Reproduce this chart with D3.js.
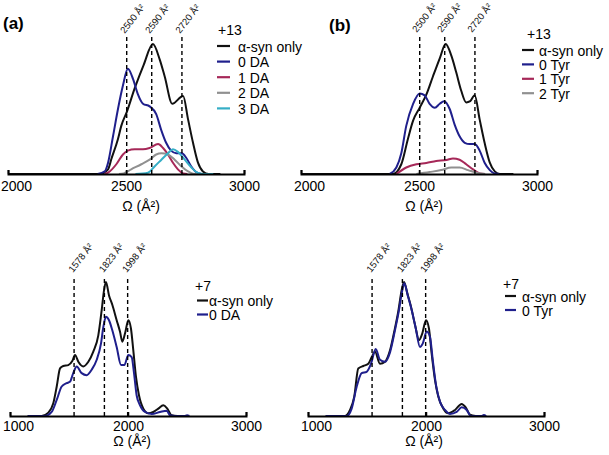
<!DOCTYPE html>
<html>
<head>
<meta charset="utf-8">
<script src="https://cdn.jsdelivr.net/npm/d3@7"></script>
<style>
  html, body { margin: 0; padding: 0; background: #fff; }
  svg { display: block; }
  text { font-family: "Liberation Sans", Arial, sans-serif; }
</style>
</head>
<body>
<svg id="chart" width="609" height="455"></svg>
<script>
// ---------------- DATA ----------------
const topTicks = [2000, 2500, 3000];
const bottomTicks = [1000, 2000, 3000];
const topMarkers = [2503, 2609, 2737];
const topMarkerLabels = ["2500 Å²", "2590 Å²", "2720 Å²"];
const bottomMarkers = [1543, 1800, 1997];
const bottomMarkerLabels = ["1578 Å²", "1823 Å²", "1998 Å²"];
const axisTitle = "Ω (Å²)";

// (a) +13 with DA
const a_synOnly = [[2000,0],[2390,0],[2424,0.036],[2438,0.115],[2466,0.27],[2480,0.37],[2504,0.48],[2537,0.66],[2575,0.84],[2614,1.0],[2643,0.88],[2664,0.75],[2696,0.54],[2742,0.6],[2763,0.42],[2784,0.24],[2805,0.087],[2826,0.02],[2850,0],[2900,0]];
const a_0DA = [[2380,0],[2410,0.02],[2424,0.087],[2445,0.29],[2466,0.5],[2487,0.68],[2508,0.81],[2530,0.73],[2551,0.61],[2572,0.54],[2600,0.52],[2628,0.46],[2649,0.34],[2670,0.24],[2691,0.18],[2713,0.16],[2737,0.16],[2755,0.125],[2776,0.06],[2797,0.015],[2820,0]];
const a_1DA = [[2410,0],[2424,0.01],[2459,0.075],[2487,0.15],[2508,0.18],[2537,0.19],[2572,0.19],[2600,0.2],[2636,0.23],[2657,0.2],[2678,0.15],[2699,0.087],[2720,0.036],[2742,0.005],[2760,0]];
const a_2DA = [[2470,0],[2490,0.005],[2522,0.036],[2565,0.075],[2600,0.11],[2628,0.15],[2650,0.16],[2678,0.15],[2706,0.11],[2734,0.06],[2763,0.02],[2784,0.003],[2800,0]];
const a_3DA = [[2540,0],[2593,0.01],[2622,0.06],[2650,0.11],[2678,0.16],[2699,0.19],[2720,0.17],[2749,0.11],[2777,0.05],[2805,0.008],[2830,0],[2870,0]];

// (b) +13 with Tyr
const b_synOnly = [[2000,0],[2390,0],[2425,0.075],[2453,0.27],[2475,0.41],[2503,0.51],[2531,0.61],[2559,0.75],[2588,0.89],[2613,1.0],[2637,0.91],[2658,0.78],[2679,0.64],[2700,0.55],[2717,0.56],[2736,0.605],[2757,0.42],[2778,0.24],[2800,0.087],[2821,0.02],[2843,0],[2900,0]];
const b_0Tyr = [[2376,0],[2404,0.05],[2425,0.16],[2446,0.37],[2475,0.54],[2503,0.62],[2524,0.605],[2545,0.54],[2567,0.51],[2588,0.54],[2606,0.56],[2630,0.5],[2651,0.38],[2672,0.29],[2694,0.24],[2715,0.23],[2736,0.23],[2757,0.18],[2778,0.087],[2800,0.03],[2821,0.003],[2840,0]];
const b_1Tyr = [[2404,0],[2446,0.05],[2489,0.075],[2531,0.085],[2573,0.1],[2616,0.107],[2644,0.12],[2672,0.11],[2700,0.075],[2729,0.035],[2758,0.005],[2780,0]];
const b_2Tyr = [[2489,0],[2545,0.015],[2594,0.03],[2637,0.05],[2672,0.05],[2708,0.03],[2743,0.01],[2780,0]];

// (c) +7 with DA
const c_synOnly = [[1150,0],[1268,0],[1325,0.025],[1367,0.095],[1396,0.22],[1424,0.355],[1452,0.373],[1494,0.38],[1528,0.41],[1551,0.455],[1579,0.405],[1621,0.37],[1664,0.405],[1706,0.48],[1748,0.6],[1777,0.79],[1797,0.94],[1813,1.0],[1839,0.9],[1867,0.83],[1904,0.715],[1932,0.63],[1952,0.555],[1975,0.617],[2003,0.715],[2025,0.653],[2045,0.49],[2068,0.29],[2093,0.155],[2130,0.055],[2172,0.02],[2214,0.03],[2257,0.055],[2299,0.08],[2333,0.055],[2370,0.005],[2420,0]];
const c_0DA = [[1150,0],[1297,0],[1353,0.03],[1396,0.12],[1438,0.22],[1480,0.245],[1508,0.255],[1536,0.32],[1565,0.37],[1607,0.32],[1650,0.305],[1692,0.345],[1735,0.42],[1771,0.54],[1791,0.665],[1813,0.74],[1839,0.715],[1867,0.64],[1904,0.515],[1941,0.38],[1969,0.38],[2003,0.455],[2031,0.44],[2051,0.32],[2073,0.155],[2102,0.08],[2144,0.03],[2201,0.015],[2271,0.03],[2328,0.04],[2356,0.005],[2400,0],[2480,0],[2500,0.006],[2520,0]];

// (d) +7 with Tyr
const d_synOnly = [[1150,0],[1314,0],[1356,0.045],[1392,0.145],[1426,0.355],[1469,0.373],[1511,0.39],[1540,0.44],[1568,0.48],[1610,0.39],[1653,0.405],[1695,0.49],[1731,0.63],[1765,0.78],[1794,0.94],[1814,1.0],[1842,0.915],[1873,0.815],[1907,0.68],[1941,0.567],[1969,0.617],[2000,0.715],[2025,0.653],[2048,0.465],[2076,0.27],[2104,0.145],[2147,0.055],[2189,0.02],[2246,0.045],[2302,0.09],[2336,0.065],[2373,0.01],[2420,0]];
const d_0Tyr = [[1150,0],[1328,0],[1370,0.055],[1413,0.22],[1455,0.32],[1497,0.33],[1534,0.39],[1574,0.5],[1610,0.42],[1653,0.405],[1695,0.475],[1737,0.64],[1771,0.79],[1794,0.915],[1816,0.99],[1845,0.9],[1879,0.79],[1913,0.655],[1949,0.515],[1972,0.54],[2006,0.63],[2034,0.59],[2057,0.42],[2085,0.23],[2119,0.105],[2161,0.045],[2203,0.015],[2260,0.03],[2302,0.065],[2345,0.045],[2380,0],[2470,0],[2490,0.008],[2510,0]];

// ---------------- STYLES ----------------
const C = { black: "#111111", blue: "#1f1f8c", red: "#a62858", gray: "#909090", teal: "#35aec6" };

const panels = [
  { tag: "(a)", tagX: 3, tagY: 29, xr: [8, 244], dom: [2000, 3000], base: 174, top: 44, ticks: topTicks,
    markers: topMarkers, mlabels: topMarkerLabels, mTop: 37, lblDx: -2, lblDy: -3, tickPad: 7.5,
    titleX: 141, titleY: 211,
    legTitle: "+13", legTitleX: 218, legTitleY: 35, legLineX: [217, 230], legTextX: 238, legY0: 46, legDy: 15.6,
    series: [
      { name: "α-syn only", data: a_synOnly, color: C.black },
      { name: "0 DA", data: a_0DA, color: C.blue },
      { name: "1 DA", data: a_1DA, color: C.red },
      { name: "2 DA", data: a_2DA, color: C.gray },
      { name: "3 DA", data: a_3DA, color: C.teal } ] },
  { tag: "(b)", tagX: 329, tagY: 31, xr: [301, 537], dom: [2000, 3000], base: 174, top: 44, ticks: topTicks,
    markers: topMarkers, mlabels: topMarkerLabels, mTop: 35, lblDx: -3, lblDy: -2, tickPad: 7.5,
    titleX: 424, titleY: 211,
    legTitle: "+13", legTitleX: 527, legTitleY: 39, legLineX: [522, 534], legTextX: 539, legY0: 50, legDy: 14.4,
    series: [
      { name: "α-syn only", data: b_synOnly, color: C.black },
      { name: "0 Tyr", data: b_0Tyr, color: C.blue },
      { name: "1 Tyr", data: b_1Tyr, color: C.red },
      { name: "2 Tyr", data: b_2Tyr, color: C.gray } ] },
  { tag: "", xr: [10, 246], dom: [1000, 3000], base: 416, top: 282, ticks: bottomTicks,
    markers: bottomMarkers, mlabels: bottomMarkerLabels, mTop: 278, lblDx: -1, lblDy: -5, tickPad: 5,
    titleX: 132, titleY: 446,
    legTitle: "+7", legTitleX: 195, legTitleY: 291, legLineX: [197, 208], legTextX: 209, legY0: 300.5, legDy: 14,
    series: [
      { name: "α-syn only", data: c_synOnly, color: C.black },
      { name: "0 DA", data: c_0DA, color: C.blue } ] },
  { tag: "", xr: [308, 544], dom: [1000, 3000], base: 416, top: 282, ticks: bottomTicks,
    markers: bottomMarkers, mlabels: bottomMarkerLabels, mTop: 278, lblDx: -1, lblDy: -5, tickPad: 5,
    titleX: 424, titleY: 446,
    legTitle: "+7", legTitleX: 503, legTitleY: 289, legLineX: [505, 516], legTextX: 522, legY0: 296, legDy: 14,
    series: [
      { name: "α-syn only", data: d_synOnly, color: C.black },
      { name: "0 Tyr", data: d_0Tyr, color: C.blue } ] }
];

const svg = d3.select("#chart");

panels.forEach(p => {
  const g = svg.append("g");
  const x = d3.scaleLinear().domain(p.dom).range(p.xr);
  const y = d3.scaleLinear().domain([0, 1]).range([p.base, p.top]);

  // curves
  const line = d3.line().x(d => x(d[0])).y(d => y(d[1])).curve(d3.curveMonotoneX);
  p.series.forEach(s => {
    g.append("path").datum(s.data).attr("d", line)
      .attr("fill", "none").attr("stroke", s.color).attr("stroke-width", 2)
      .attr("stroke-linejoin", "round");
  });

  // dashed markers
  p.markers.forEach((m, i) => {
    g.append("line").attr("x1", x(m)).attr("x2", x(m)).attr("y1", p.base).attr("y2", p.mTop)
      .attr("stroke", "#000").attr("stroke-width", 1.4).attr("stroke-dasharray", "4,3");
    g.append("text").attr("transform", `translate(${x(m) + p.lblDx},${p.mTop + p.lblDy}) rotate(-52)`)
      .attr("font-family", "'Open Sans', sans-serif").attr("font-size", 9.5).attr("fill", "#111")
      .text(p.mlabels[i]);
  });

  // axis
  const axis = d3.axisBottom(x).tickValues(p.ticks).tickFormat(d3.format("d"))
    .tickSizeInner(-4).tickSizeOuter(-4).tickPadding(p.tickPad);
  const ag = g.append("g").attr("transform", `translate(0,${p.base})`).call(axis);
  ag.select(".domain").attr("stroke", "#000").attr("stroke-width", 2);
  ag.selectAll(".tick line").attr("stroke", "#000").attr("stroke-width", 1.5);
  ag.selectAll(".tick text").attr("font-size", 14).attr("fill", "#000")
    .attr("font-family", "'Liberation Sans', Arial, sans-serif");
  ag.selectAll(".tick text").filter((d, i) => i === 0).attr("x", 8);

  g.append("text").attr("x", p.titleX).attr("y", p.titleY).attr("text-anchor", "middle")
    .attr("font-size", 14).attr("fill", "#000").text(axisTitle);

  // panel tag
  if (p.tag) {
    g.append("text").attr("x", p.tagX).attr("y", p.tagY).attr("font-size", 17)
      .attr("font-weight", "bold").attr("fill", "#000").text(p.tag);
  }

  // legend
  g.append("text").attr("x", p.legTitleX).attr("y", p.legTitleY).attr("font-size", 14)
    .attr("fill", "#000").text(p.legTitle);
  p.series.forEach((s, i) => {
    const ly = p.legY0 + i * p.legDy;
    g.append("line").attr("x1", p.legLineX[0]).attr("x2", p.legLineX[1]).attr("y1", ly).attr("y2", ly)
      .attr("stroke", s.color).attr("stroke-width", 2.2);
    g.append("text").attr("x", p.legTextX).attr("y", ly + 5.5).attr("font-size", 14)
      .attr("fill", "#000").text(s.name);
  });
});
</script>
</body>
</html>
